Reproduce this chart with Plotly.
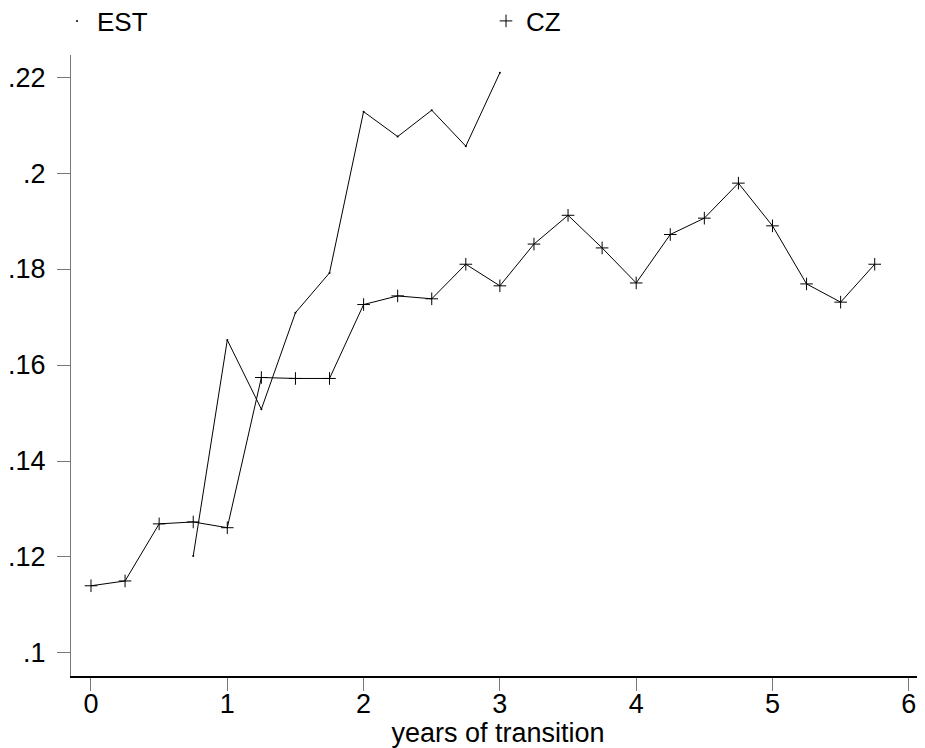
import plotly.graph_objects as go

# ---- data ----
years_cz = [0, 0.25, 0.5, 0.75, 1.0, 1.25, 1.5, 1.75, 2.0, 2.25, 2.5, 2.75,
            3.0, 3.25, 3.5, 3.75, 4.0, 4.25, 4.5, 4.75, 5.0, 5.25, 5.5, 5.75]
cz = [0.1140, 0.1150, 0.1269, 0.1273, 0.1261, 0.1574, 0.1572, 0.1572,
      0.1726, 0.1744, 0.1738, 0.1810, 0.1765, 0.1852, 0.1912, 0.1844,
      0.1771, 0.1872, 0.1906, 0.1979, 0.1890, 0.1769, 0.1731, 0.1810]

years_est = [0.75, 1.0, 1.25, 1.5, 1.75, 2.0, 2.25, 2.5, 2.75, 3.0]
est = [0.1202, 0.1652, 0.1508, 0.1709, 0.1792, 0.2128, 0.2076, 0.2131, 0.2056, 0.2209]

x_ticks = [0, 1, 2, 3, 4, 5, 6]
x_ticktext = ["0", "1", "2", "3", "4", "5", "6"]
y_ticks = [0.10, 0.12, 0.14, 0.16, 0.18, 0.20, 0.22]
y_ticktext = [".1", ".12", ".14", ".16", ".18", ".2", ".22"]

FONT = "Liberation Sans, Arial, sans-serif"
W, H = 917, 740  # page body has an 8px margin

fig = go.Figure()

# EST series
fig.add_trace(go.Scatter(
    x=years_est, y=est, mode="lines+markers", name="EST",
    line=dict(color="black", width=1),
    marker=dict(symbol="circle", size=2, color="black"),
    showlegend=False,
))
# CZ series
fig.add_trace(go.Scatter(
    x=years_cz, y=cz, mode="lines+markers", name="CZ",
    line=dict(color="black", width=1),
    marker=dict(symbol="cross-thin", size=9, color="black",
                line=dict(color="black", width=1)),
    showlegend=False,
))

# legend entries (marker only, like Stata)
fig.add_trace(go.Scatter(
    x=[None], y=[None], mode="markers", name="EST",
    marker=dict(symbol="circle", size=2, color="black"),
    legend="legend",
))
fig.add_trace(go.Scatter(
    x=[None], y=[None], mode="markers", name="CZ",
    marker=dict(symbol="cross-thin", size=9, color="black",
                line=dict(color="black", width=1)),
    legend="legend2",
))

legend_common = dict(
    orientation="h", xref="container", yref="container",
    yanchor="middle", xanchor="left",
    font=dict(family=FONT, size=26, color="black"),
    bgcolor="rgba(0,0,0,0)", borderwidth=0,
)

fig.update_layout(
    width=W, height=H,
    margin=dict(l=63, r=0, t=47, b=72),
    paper_bgcolor="white", plot_bgcolor="white",
    font=dict(family=FONT, size=27, color="black"),
    legend=dict(x=49 / W, y=1 - 13 / H, **legend_common),
    legend2=dict(x=478 / W, y=1 - 13 / H, **legend_common),
    xaxis=dict(
        range=[-0.1467, 6.119],
        tickmode="array", tickvals=x_ticks, ticktext=x_ticktext,
        ticks="outside", ticklen=13, tickwidth=1, tickcolor="#777777",
        showline=True, linecolor="black", linewidth=2,
        showgrid=False, zeroline=False,
        tickfont=dict(family=FONT, size=27, color="black"),
        ticklabelstandoff=-10,
        title=dict(text="years of transition", standoff=1,
                   font=dict(family=FONT, size=27, color="black")),
    ),
    yaxis=dict(
        range=[0.0952, 0.2246],
        tickmode="array", tickvals=y_ticks, ticktext=y_ticktext,
        ticks="outside", ticklen=13, tickwidth=1, tickcolor="#777777",
        showline=True, linecolor="#777777", linewidth=1,
        showgrid=False, zeroline=False,
        tickfont=dict(family=FONT, size=27, color="black"),
        ticklabelstandoff=6,
    ),
)

fig.write_html("out.html")
